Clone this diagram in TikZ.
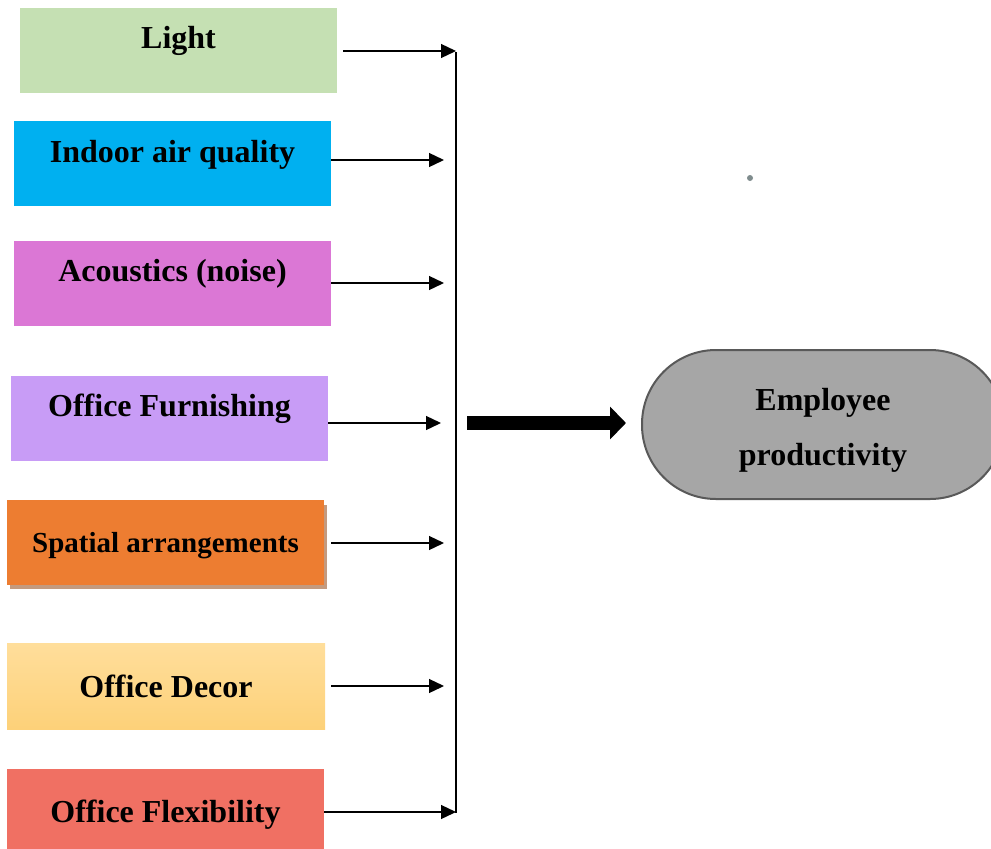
\documentclass[tikz,border=0pt]{standalone}
\usepackage{fontspec}
\setmainfont{Liberation Serif}
\usetikzlibrary{arrows.meta,calc}
\definecolor{cLight}{HTML}{C5E0B3}
\definecolor{cAir}{HTML}{00B0F0}
\definecolor{cNoise}{HTML}{DB77D5}
\definecolor{cFurn}{HTML}{C89CF6}
\definecolor{cSpace}{HTML}{ED7D31}
\definecolor{cSpaceShadow}{HTML}{C49A7E}
\definecolor{cDecorTop}{HTML}{FFDE9B}
\definecolor{cDecorBot}{HTML}{FDD179}
\definecolor{cFlex}{HTML}{F07063}
\definecolor{cProd}{HTML}{A6A6A6}
\definecolor{cProdLine}{HTML}{595959}
\definecolor{cDot}{HTML}{7F8C8D}
\tikzset{
  factor/.style={rectangle, minimum width=317pt, minimum height=85pt, inner sep=0pt},
  lbl/.style={font=\bfseries\fontsize{32}{36}\selectfont},
  lblsmall/.style={font=\bfseries\fontsize{29}{33}\selectfont},
  feed/.style={line width=1.3pt, -{Triangle[length=15pt,width=14pt]}},
  rail/.style={line width=1.3pt},
  bigarrow/.style={line width=14pt, -{Triangle[length=16pt,width=32pt]}},
}
\begin{document}
\begin{tikzpicture}[x=1pt,y=-1pt]
\useasboundingbox (0,0) rectangle (991,849);

% factor boxes
\node[factor, fill=cLight, label={[lbl,yshift=10pt]center:Light}] (light) at (178.5,50.5) {};
\node[factor, fill=cAir, label={[lbl,yshift=9pt]center:Indoor air quality}] (air) at (172.5,163.5) {};
\node[factor, fill=cNoise, label={[lbl,yshift=10pt]center:Acoustics (noise)}] (noise) at (172.5,283.5) {};
\node[factor, fill=cFurn, label={[lbl,yshift=10pt]center:Office Furnishing}] (furn) at (169.5,418.5) {};
\fill[cSpaceShadow] (10,505) rectangle (327,589);
\node[factor, fill=cSpace, label={[lblsmall,yshift=-3pt]center:Spatial arrangements}] (space) at (165.5,542.5) {};
\node[factor, minimum width=318pt, minimum height=86pt, top color=cDecorTop, bottom color=cDecorBot, label={[lbl,yshift=-0pt]center:Office Decor}] (decor) at (166,686) {};
\node[factor, minimum height=80pt, fill=cFlex, label={[lbl,yshift=-6pt]center:Office Flexibility}] (flex) at (165.5,809) {};

% arrow ends on the collecting rail
\coordinate (t1) at (456,51);
\coordinate (t2) at (444,160);
\coordinate (t3) at (444,283);
\coordinate (t4) at (441,423);
\coordinate (t5) at (444,543);
\coordinate (t6) at (444,686);
\coordinate (t7) at (456,812);
\coordinate (railtop) at (456,52);

% feeder arrows
\draw[feed] ($(light.east |- t1)+(6,0)$) -- (t1);
\draw[feed] (air.east |- t2) -- (t2);
\draw[feed] (noise.east |- t3) -- (t3);
\draw[feed] (furn.east |- t4) -- (t4);
\draw[feed] ($(space.east |- t5)+(7,0)$) -- (t5);
\draw[feed] ($(decor.east |- t6)+(6,0)$) -- (t6);
\draw[feed] (flex.east |- t7) -- (t7);

% collecting rail
\draw[rail] (railtop) -- (456,812.6);

% outcome
\node[rectangle, rounded corners=74pt, minimum width=362pt, minimum height=149pt,
      fill=cProd, draw=cProdLine, line width=2pt, align=center,
      font=\bfseries\fontsize{32}{55}\selectfont] (prod) at (823,424.5) {};
\node[align=center, font=\bfseries\fontsize{32}{55}\selectfont, yshift=-6pt] (prodtext) at (prod.center) {Employee\\[0pt]productivity};
\coordinate (bigstart) at (467,423);
\draw[bigarrow] (bigstart) -- ($(prod.west)+(-15,-1.5)$);

\fill[cDot] (750,178) circle (3pt);
\end{tikzpicture}
\end{document}
